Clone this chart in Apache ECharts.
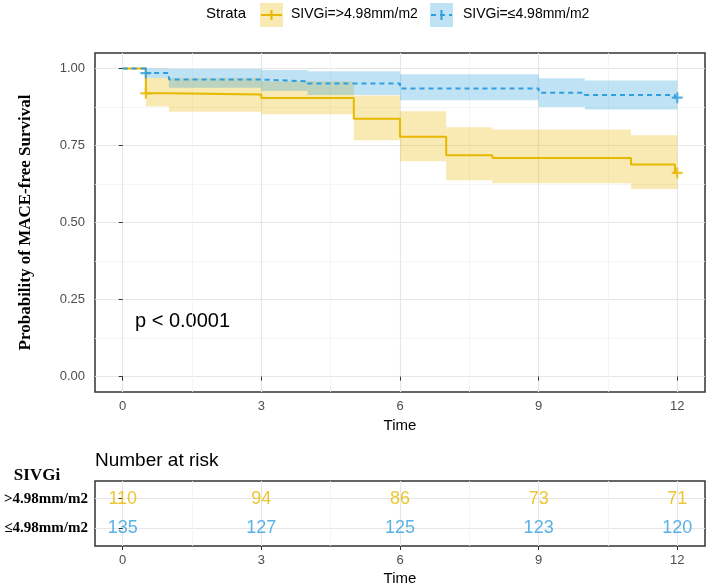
<!DOCTYPE html>
<html>
<head>
<meta charset="utf-8">
<script src="https://cdn.jsdelivr.net/npm/echarts@6/dist/echarts.min.js"></script>
<style>html,body{margin:0;padding:0;background:#fff;}#c{width:708px;height:587px;}</style>
</head>
<body>
<div id="c"></div>
<script>
// ---- data ----
const strataNames = ['SIVGi=>4.98mm/m2', 'SIVGi=≤4.98mm/m2'];
const rowLabels = ['>4.98mm/m2', '≤4.98mm/m2'];

const highTimes = [0, 0.5, 1.0, 3.0, 5.0, 6.0, 7.0, 8.0, 11.0, 11.95, 12];
const highSurv  = [1.0, 0.919, 0.915, 0.904, 0.837, 0.778, 0.718, 0.709, 0.688, 0.661, 0.661];
const highBandTimes = [0, 0.5, 1, 3, 5, 6, 7, 8, 11, 12];
const highUpper = [1.0, 0.969, 0.969, 0.958, 0.912, 0.861, 0.809, 0.802, 0.783, 0.783];
const highLower = [1.0, 0.877, 0.859, 0.851, 0.767, 0.699, 0.637, 0.627, 0.609, 0.609];
const highCensor = [[0.5, 0.919], [12, 0.661]];

const lowTimes = [0, 0.5, 1.0, 3.0, 4.0, 6.0, 9.0, 10.0, 11.95, 12];
const lowSurv  = [1.0, 0.985, 0.964, 0.958, 0.951, 0.935, 0.921, 0.914, 0.905, 0.905];
const lowBandTimes = [0, 0.5, 1, 3, 4, 6, 9, 10, 12];
const lowUpper = [1.0, 1.0, 0.998, 0.995, 0.991, 0.981, 0.968, 0.961, 0.961];
const lowLower = [1.0, 0.969, 0.937, 0.927, 0.914, 0.897, 0.875, 0.867, 0.867];
const lowCensor = [[0.5, 0.985], [12, 0.905]];

const riskTimes = [0, 3, 6, 9, 12];
const riskHigh = [110, 94, 86, 73, 71];
const riskLow = [135, 127, 125, 123, 120];

const xTicks = [0, 3, 6, 9, 12];
const xMinorTicks = [1.5, 4.5, 7.5, 10.5];
const yTicks = [0, 0.25, 0.5, 0.75, 1.0];
const yMinorTicks = [0.125, 0.375, 0.625, 0.875];
const pText = 'p < 0.0001';

// ---- style ----
const YEL = '#E7B800', BLU = '#2E9FDF';
const YEL_F = 'rgba(231,184,0,0.3)', BLU_F = 'rgba(46,159,223,0.3)';
const SANS = '"Liberation Sans", Arial, sans-serif';
const SERIF = '"Liberation Serif", "Times New Roman", serif';
const MAJ = '#e6e6e6', MIN = '#f2f2f2';

const zip = (a, b) => a.map((v, i) => [v, b[i]]);
// band segments: [tStart, tEnd, lower, upper]
const segs = (times, lower, upper) => {
  const out = [];
  for (let i = 0; i < times.length - 1; i++) out.push([times[i], times[i + 1], lower[i], upper[i]]);
  return out;
};

function bandSeries(times, lower, upper, fill) {
  return {
    type: 'custom', xAxisIndex: 0, yAxisIndex: 0, silent: true, z: 1,
    data: segs(times, lower, upper),
    encode: { x: [0, 1], y: [2, 3] },
    renderItem: (params, api) => {
      const p0 = api.coord([api.value(0), api.value(3)]);
      const p1 = api.coord([api.value(1), api.value(2)]);
      return { type: 'rect', shape: { x: p0[0], y: p0[1], width: p1[0] - p0[0], height: p1[1] - p0[1] },
        style: { fill: fill } };
    }
  };
}

const plus = 'path://M4,0h2v4h4v2h-4v4h-2v-4h-4v-2h4z';

const chart = echarts.init(document.getElementById('c'), null, { renderer: 'canvas' });

const majorX = (grid, name) => ({
  gridIndex: grid, type: 'value', min: -0.6, max: 12.6, position: 'bottom',
  axisLine: { show: false },
  axisTick: { show: true, customValues: xTicks, length: 4, lineStyle: { color: '#333', width: 1 } },
  axisLabel: { customValues: xTicks, color: '#4d4d4d', fontSize: 13, margin: 8, fontFamily: SANS },
  splitLine: { show: true, lineStyle: { color: MAJ, width: 1.2 } },
  name: name, nameLocation: 'middle', nameGap: 25,
  nameTextStyle: { color: '#000', fontSize: 15, fontFamily: SANS }
});
const minorX = (grid) => ({
  gridIndex: grid, type: 'value', min: -0.6, max: 12.6, position: 'top',
  axisLine: { show: false },
  axisTick: { show: false, customValues: xMinorTicks },
  axisLabel: { show: false, customValues: xMinorTicks },
  splitLine: { show: true, lineStyle: { color: MIN, width: 0.8 } }
});

const riskLabel = (color) => ({ show: true, position: 'inside', formatter: p => String(p.value[2]),
  color: color, fontSize: 18, fontFamily: SANS });

const option = {
  animation: false,
  backgroundColor: '#fff',
  grid: [
    { left: 95, top: 53, width: 610, height: 339, show: true, borderColor: '#333', borderWidth: 1.5, backgroundColor: '#fff' },
    { left: 95, top: 481, width: 610, height: 65, show: true, borderColor: '#333', borderWidth: 1.5, backgroundColor: '#fff' }
  ],
  xAxis: [ majorX(0, 'Time'), minorX(0), majorX(1, 'Time'), minorX(1) ],
  yAxis: [
    { gridIndex: 0, type: 'value', min: -0.05, max: 1.05, position: 'left',
      axisLine: { show: false },
      axisTick: { show: true, customValues: yTicks, length: 4, lineStyle: { color: '#333' } },
      axisLabel: { customValues: yTicks, color: '#4d4d4d', fontSize: 13, margin: 10, fontFamily: SANS,
        formatter: v => v.toFixed(2) },
      splitLine: { show: true, lineStyle: { color: MAJ, width: 1.2 } },
      name: 'Probability of MACE-free Survival', nameLocation: 'middle', nameGap: 61, nameRotate: 90,
      nameTextStyle: { color: '#000', fontSize: 17, fontWeight: 'bold', fontFamily: SERIF } },
    { gridIndex: 0, type: 'value', min: -0.05, max: 1.05, position: 'right',
      axisLine: { show: false },
      axisTick: { show: false, customValues: yMinorTicks },
      axisLabel: { show: false, customValues: yMinorTicks },
      splitLine: { show: true, lineStyle: { color: MIN, width: 0.8 } } },
    { gridIndex: 1, type: 'value', min: 0.4, max: 2.6, position: 'left',
      axisLine: { show: false },
      axisTick: { show: true, customValues: [1, 2], length: 4, lineStyle: { color: '#333' } },
      axisLabel: { customValues: [1, 2], color: '#000', fontSize: 15, fontWeight: 'bold', fontFamily: SERIF, margin: 7,
        formatter: v => (v === 2 ? rowLabels[0] : rowLabels[1]) },
      splitLine: { show: true, lineStyle: { color: MAJ, width: 1.2 } } }
  ],
  series: [
    bandSeries(highBandTimes, highLower, highUpper, YEL_F),
    bandSeries(lowBandTimes, lowLower, lowUpper, BLU_F),
    { name: strataNames[0], type: 'line', xAxisIndex: 0, yAxisIndex: 0, step: 'end', symbol: 'none',
      lineStyle: { color: YEL, width: 2 }, data: zip(highTimes, highSurv), z: 3 },
    { name: strataNames[1], type: 'line', xAxisIndex: 0, yAxisIndex: 0, step: 'end', symbol: 'none',
      lineStyle: { color: BLU, width: 2, type: [5, 4] }, data: zip(lowTimes, lowSurv), z: 4 },
    { type: 'scatter', xAxisIndex: 0, yAxisIndex: 0, symbol: plus, symbolSize: 11,
      itemStyle: { color: YEL }, data: highCensor, z: 5 },
    { type: 'scatter', xAxisIndex: 0, yAxisIndex: 0, symbol: plus, symbolSize: 11,
      itemStyle: { color: BLU }, data: lowCensor, z: 5 },
    { type: 'scatter', xAxisIndex: 2, yAxisIndex: 2, symbolSize: 1, itemStyle: { color: 'rgba(0,0,0,0)' },
      data: riskTimes.map((t, i) => [t, 2, riskHigh[i]]), label: riskLabel(YEL), z: 5 },
    { type: 'scatter', xAxisIndex: 2, yAxisIndex: 2, symbolSize: 1, itemStyle: { color: 'rgba(0,0,0,0)' },
      data: riskTimes.map((t, i) => [t, 1, riskLow[i]]), label: riskLabel(BLU), z: 5 }
  ],
  graphic: [
    // legend
    { type: 'text', left: 206, top: 6, style: { text: 'Strata', fontSize: 15, fontFamily: SANS, fill: '#000' } },
    { type: 'rect', shape: { x: 260, y: 3, width: 23, height: 24 }, style: { fill: YEL_F } },
    { type: 'line', shape: { x1: 261, y1: 15, x2: 282, y2: 15 }, style: { stroke: YEL, lineWidth: 2 } },
    { type: 'line', shape: { x1: 271.5, y1: 10, x2: 271.5, y2: 20 }, style: { stroke: YEL, lineWidth: 2 } },
    { type: 'text', left: 291, top: 7, style: { text: strataNames[0], fontSize: 14, fontFamily: SANS, fill: '#000' } },
    { type: 'rect', shape: { x: 430, y: 3, width: 23, height: 24 }, style: { fill: BLU_F } },
    { type: 'line', shape: { x1: 431, y1: 15, x2: 452, y2: 15 }, style: { stroke: BLU, lineWidth: 2, lineDash: [5, 4] } },
    { type: 'line', shape: { x1: 441.5, y1: 10, x2: 441.5, y2: 20 }, style: { stroke: BLU, lineWidth: 2 } },
    { type: 'text', left: 463, top: 7, style: { text: strataNames[1], fontSize: 14, fontFamily: SANS, fill: '#000' } },
    // p-value
    { type: 'text', left: 135, top: 311, style: { text: pText, fontSize: 20, fontFamily: SANS, fill: '#000' } },
    // risk table titles
    { type: 'text', left: 95, top: 451, style: { text: 'Number at risk', fontSize: 19, fontFamily: SANS, fill: '#000' } },
    { type: 'text', x: 37, y: 476, style: { text: 'SIVGi', fontSize: 17, fontWeight: 'bold', fontFamily: SERIF, fill: '#000', align: 'center', verticalAlign: 'middle' } }
  ]
};
chart.setOption(option);
</script>
</body>
</html>
